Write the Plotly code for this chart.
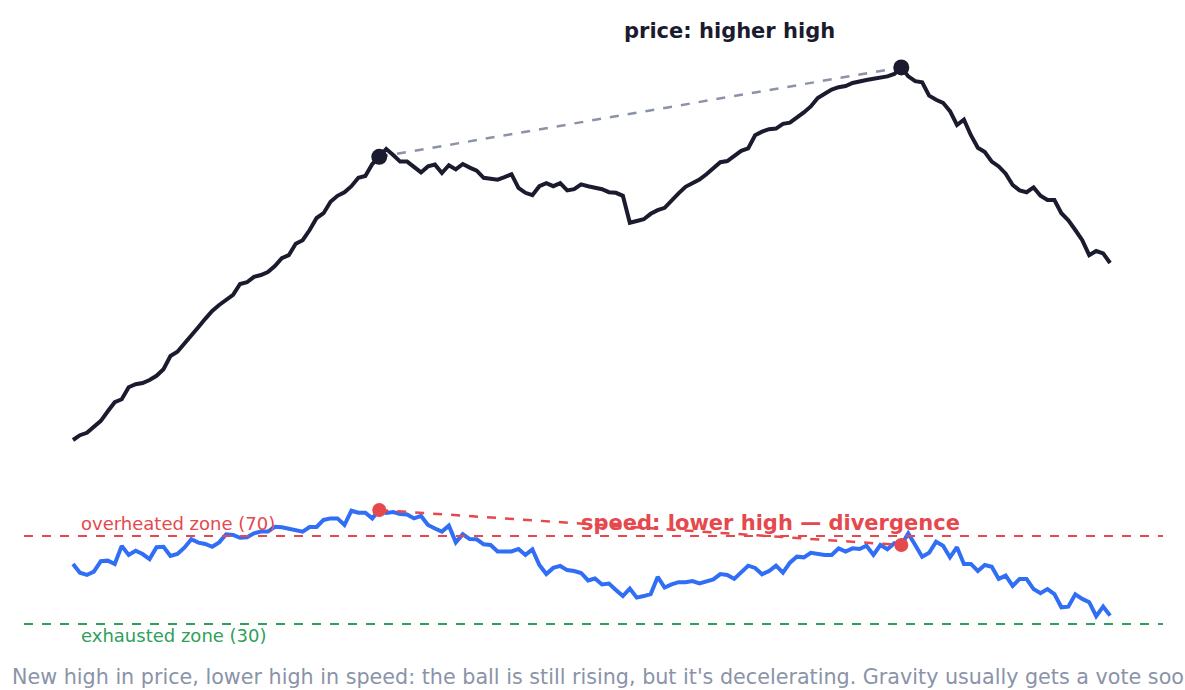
import plotly.graph_objects as go

price = [100.0, 100.8, 101.2, 102.3, 103.2, 104.8, 106.3, 106.8, 108.8, 109.3,
         109.5, 110.0, 110.7, 111.8, 114.0, 114.7, 116.0, 117.5, 118.8, 120.2,
         121.5, 122.5, 123.3, 124.2, 126.0, 126.3, 127.2, 127.5, 128.0, 129.0,
         130.3, 130.8, 132.7, 133.3, 135.0, 137.0, 137.8, 139.7, 140.7, 141.3,
         142.3, 143.7, 144.0, 146.0, 147.2, 148.5, 147.5, 146.4, 146.4, 145.5,
         144.6, 145.6, 145.9, 144.5, 145.8, 145.1, 146.0, 145.4, 144.9, 143.7,
         143.5, 143.4, 143.8, 144.3, 142.0, 141.2, 140.8, 142.3, 142.8, 142.3,
         142.8, 141.6, 141.8, 142.6, 142.3, 142.1, 141.8, 141.3, 141.2, 140.7,
         136.2, 136.5, 136.8, 137.7, 138.3, 138.7, 140.0, 141.1, 142.2, 142.8,
         143.4, 144.3, 145.3, 146.3, 146.5, 147.3, 148.2, 148.6, 150.8, 151.4,
         151.8, 151.9, 152.7, 152.9, 153.7, 154.6, 155.6, 157.0, 157.7, 158.4,
         158.8, 159.0, 159.5, 159.8, 160.0, 160.2, 160.4, 160.6, 161.0, 162.1,
         160.6, 159.8, 159.6, 157.4, 156.7, 156.2, 154.8, 152.5, 153.4, 150.8,
         148.7, 148.0, 146.4, 145.6, 144.4, 142.5, 141.6, 141.3, 142.1, 140.7,
         140.0, 140.0, 137.8, 136.6, 135.0, 133.3, 130.8, 131.5, 131.1, 129.5]

rsi = [57.3, 53.3, 52.3, 53.8, 58.6, 58.8, 57.3, 65.5, 61.4, 63.3,
       61.8, 59.5, 64.9, 65.1, 60.9, 61.8, 64.7, 68.5, 67.0, 66.4,
       65.1, 67.1, 70.8, 70.5, 69.2, 69.4, 71.2, 72.0, 72.0, 74.2,
       74.0, 73.4, 72.7, 72.0, 74.1, 74.1, 77.3, 78.0, 78.0, 75.0,
       81.5, 80.6, 80.6, 78.0, 81.8, 80.5, 80.9, 80.0, 79.8, 78.0,
       79.1, 75.0, 73.4, 72.0, 74.7, 67.1, 70.8, 68.6, 68.5, 66.2,
       65.9, 63.0, 62.9, 63.0, 64.1, 61.4, 63.9, 56.8, 52.7, 55.5,
       56.4, 54.5, 54.1, 53.2, 49.8, 50.7, 48.0, 48.4, 45.5, 42.7,
       46.1, 42.0, 42.7, 43.6, 51.4, 46.6, 48.0, 49.0, 49.0, 49.5,
       48.5, 49.5, 50.3, 52.7, 52.3, 50.5, 53.6, 56.5, 55.5, 52.6,
       54.1, 56.5, 53.3, 57.9, 60.6, 60.3, 62.4, 61.8, 61.4, 61.4,
       64.4, 62.9, 64.4, 64.1, 65.6, 61.4, 65.9, 64.0, 66.7, 65.9,
       71.2, 65.9, 60.6, 62.4, 67.4, 65.6, 60.3, 64.9, 57.3, 57.3,
       54.1, 56.8, 56.0, 50.5, 52.0, 47.3, 50.5, 50.5, 45.9, 44.0,
       45.9, 43.6, 37.6, 37.9, 43.5, 41.4, 39.9, 33.6, 37.9, 33.8]

days = list(range(len(price)))
peak_idx = [44, 119]
overbought = 70
oversold = 30

DARK = "#1b1b30"
BLUE = "#2f6ef5"
RED = "#e5484d"
GREEN = "#2ea05a"
GRAY = "#8a93a8"
FONT = "DejaVu Sans"

fig = go.Figure()

fig.add_trace(go.Scatter(x=days, y=price, mode="lines", line=dict(color=DARK, width=4),
                         yaxis="y", hoverinfo="skip", showlegend=False))
fig.add_trace(go.Scatter(x=peak_idx, y=[price[i] for i in peak_idx], mode="lines",
                         line=dict(color=GRAY, width=2.5, dash="dash"), yaxis="y",
                         showlegend=False))
fig.add_trace(go.Scatter(x=peak_idx, y=[price[i] for i in peak_idx], mode="markers",
                         marker=dict(color=DARK, size=16), yaxis="y", showlegend=False))

fig.add_trace(go.Scatter(x=days, y=rsi, mode="lines", line=dict(color=BLUE, width=4),
                         yaxis="y2", showlegend=False))
fig.add_trace(go.Scatter(x=peak_idx, y=[rsi[i] for i in peak_idx], mode="lines",
                         line=dict(color=RED, width=2.5, dash="dash"), yaxis="y2",
                         showlegend=False))
fig.add_trace(go.Scatter(x=peak_idx, y=[rsi[i] for i in peak_idx], mode="markers",
                         marker=dict(color=RED, size=14), yaxis="y2", showlegend=False))

fig.add_shape(type="line", xref="paper", x0=0, x1=1, yref="y2", y0=overbought, y1=overbought,
              line=dict(color=RED, width=2, dash="dash"))
fig.add_shape(type="line", xref="paper", x0=0, x1=1, yref="y2", y0=oversold, y1=oversold,
              line=dict(color=GREEN, width=2, dash="dash"))

fig.add_annotation(x=94.25, y=168.2, xref="x", yref="y", text="<b>price: higher high</b>",
                   showarrow=False, font=dict(family=FONT, size=21, color=DARK))
fig.add_annotation(x=100.2, y=75.9, xref="x", yref="y2", text="<b>speed: lower high — divergence</b>",
                   showarrow=False, font=dict(family=FONT, size=21, color=RED))
fig.add_annotation(x=0.85, y=75.9, xref="x", yref="y2", text="overheated zone (70)",
                   xanchor="left", showarrow=False, font=dict(family=FONT, size=18, color=RED))
fig.add_annotation(x=0.85, y=25.0, xref="x", yref="y2", text="exhausted zone (30)",
                   xanchor="left", showarrow=False, font=dict(family=FONT, size=18, color=GREEN))
fig.add_annotation(
    x=-14 / 1139, y=-(677 - 646) / 636, xref="paper", yref="paper", xanchor="left", yanchor="middle",
    text="New high in price, lower high in speed: the ball is still rising, but it's decelerating. Gravity usually gets a vote soon.",
    showarrow=False, font=dict(family=FONT, size=20.7, color=GRAY))

fig.update_layout(
    width=1185, height=690,
    margin=dict(l=24, r=22, t=10, b=44),
    paper_bgcolor="white", plot_bgcolor="white",
    xaxis=dict(range=[-7.04, 156.6], visible=False, showgrid=False, zeroline=False),
    yaxis=dict(domain=[0.2767, 1], range=[95, 171.667], visible=False, showgrid=False, zeroline=False),
    yaxis2=dict(domain=[0, 0.25943], range=[20, 95], visible=False, showgrid=False, zeroline=False,
                anchor="x"),
    showlegend=False,
    font=dict(family=FONT),
)

fig.write_html("out.html")
